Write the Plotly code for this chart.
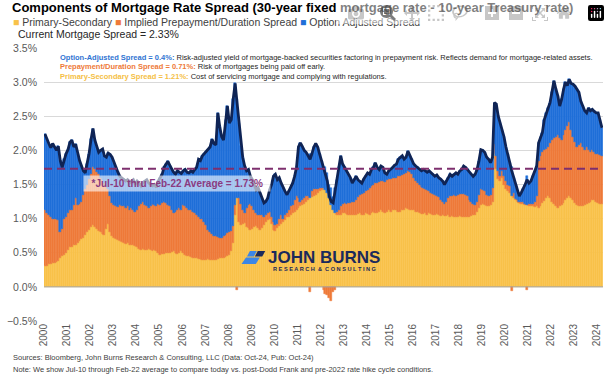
import pandas as pd
import plotly.graph_objects as go

# ---------------- data (monthly, Aug-2000 .. Oct-2024), values in % ----------------
months = pd.date_range("2000-08-01", periods=291, freq="MS")

primary_secondary = [
    .30, .31, .33, .34, .35,
    .35, .36, .38, .42, .45, .47, .50, .54, .58, .59, .61, .62,
    .64, .67, .70, .72, .76, .80, .84, .88, .90, .88, .85, .82,
    .80, .78, .76, .85, .92, .80, .74, .72, .70, .68, .67, .66,
    .64, .63, .64, .62, .61, .61, .60, .58, .55, .54, .55, .54,
    .54, .55, .54, .53, .54, .52, .50, .47, .48, .48, .49, .49,
    .50, .51, .52, .50, .48, .50, .52, .50, .47, .45, .45, .44,
    .43, .42, .42, .41, .41, .40, .40, .40, .41, .40, .40, .40,
    .40, .41, .42, .42, .43, .44, .45, .47, .52, .65, 1.05, 1.30,
    .95, .90, .92, .94, .88, .86, .84, .85, .88, .89, .86, .84,
    .86, .90, .95, .98, 1.00, .92, .84, .82, .86, .89, .92, .95,
    .98, 1.02, 1.03, 1.05, 1.08, 1.10, 1.12, 1.15, 1.18, 1.20, 1.22, 1.25,
    1.28, 1.30, 1.32, 1.33, 1.35, 1.38, 1.40, 1.42, 1.45, 1.42, 1.38, 1.30,
    1.20, 1.12, 1.08, 1.05, 1.05, 1.06, 1.08, 1.08, 1.07, 1.06, 1.05, 1.05,
    1.06, 1.05, 1.07, 1.08, 1.06, 1.05, 1.08, 1.07, 1.06, 1.08, 1.09, 1.08,
    1.08, 1.10, 1.12, 1.10, 1.08, 1.10, 1.12, 1.10, 1.12, 1.13, 1.12, 1.10,
    1.10, 1.12, 1.13, 1.15, 1.14, 1.12, 1.13, 1.12, 1.10, 1.10, 1.08, 1.07,
    1.07, 1.08, 1.06, 1.08, 1.07, 1.05, 1.06, 1.07, 1.05, 1.04, 1.05, 1.04,
    1.04, 1.05, 1.03, 1.04, 1.03, 1.02, 1.03, 1.04, 1.03, 1.03, 1.02, 1.03,
    1.03, 1.04, 1.05, 1.06, 1.10, 1.15, 1.20, 1.22, 1.20, 1.18, 1.19, 1.20,
    1.25, 1.95, 1.72, 1.58, 1.55, 1.60, 1.50, 1.43, 1.40, 1.38, 1.33, 1.30,
    1.27, 1.25, 1.23, 1.22, 1.21, 1.20, 1.20, 1.19, 1.18, 1.18, 1.17, 1.18,
    1.15, 1.18, 1.23, 1.26, 1.30, 1.33, 1.30, 1.25, 1.22, 1.18, 1.15, 1.18,
    1.20, 1.23, 1.28, 1.30, 1.33, 1.30, 1.27, 1.23, 1.20, 1.18, 1.18, 1.18,
    1.20, 1.22, 1.23, 1.25, 1.27, 1.28, 1.25, 1.23, 1.22, 1.21,
]

prepayment_duration = [
    .83, .77, .72, .68, .65,
    .65, .63, .60, .38, .40, .53, .53, .54, .54, .54, .59, .68,
    .56, .55, .55, .63, .67, .70, .74, .77, .85, .84, .83, .83,
    .80, .79, .76, .63, .51, .53, .49, .48, .48, .49, .53, .53,
    .54, .52, .54, .50, .54, .52, .50, .55, .63, .68, .70, .66,
    .64, .60, .64, .69, .66, .66, .72, .73, .75, .77, .74, .71,
    .68, .61, .56, .60, .65, .65, .61, .70, .71, .70, .68, .68,
    .67, .66, .63, .61, .59, .59, .55, .50, .43, .40, .38, .34,
    .34, .32, .30, .30, .31, .32, .34, .33, .30, .24, .15, -.05,
    .35, .32, .20, .14, .27, .34, .38, .33, .24, .19, .19, .21,
    .19, .12, .10, .10, .10, .10, .11, .08, .06, .10, .13, .05,
    .07, .06, .09, .13, .12, .18, .21, .15, .07, .08, .08, .08,
    .05, -.07, .08, .10, .08, .06, .05, .03, -.05, -.10, -.12, -.16,
    -.20, -.08, -.05, .05, .08, .12, .13, .15, .15, .17, .18, .20,
    .19, .23, .25, .27, .30, .33, .32, .35, .39, .40, .41, .44,
    .44, .43, .43, .45, .46, .46, .46, .48, .47, .47, .48, .52,
    .53, .52, .52, .52, .56, .56, .52, .48, .45, .42, .42, .40,
    .38, .36, .36, .32, .31, .31, .28, .26, .26, .24, .20, .18,
    .21, .25, .30, .29, .31, .31, .32, .32, .33, .33, .32, .30,
    .25, .21, .17, .14, .15, .20, .23, .20, .20, .17, .14, .15,
    .20, .15, .20, .12, .07, .10, .12, .12, .10, .10, -.06, .08,
    .02, .02, .01, .02, .03, .02, -.05, .03, .03, .04, .08, .15,
    .70, .74, .75, .74, .72, .72, .81, .90, .96, 1.02, 1.07, 1.00,
    .95, .99, 1.02, 1.05, 1.09, 1.00, .93, .89, .85, .90, .93, .87,
    .80, .83, .77, .73, .73, .69, .70, .72, .71, .71,
]

option_adjusted = [
    1.11, 1.08, 1.05, 1.02, 1.10,
    1.05, 1.01, 1.08, 1.05, .90, .87, .92, .93, 1.00, 1.02, .85, .79,
    .75, .63, .53, .35, .24, .30, .37, .51, .57, .43, .37, .32,
    .40, .45, .40, .42, .53, .61, .67, .62, .57, .51, .42, .41,
    .40, .40, .39, .40, .40, .44, .40, .42, .34, .26, .28, .35,
    .39, .37, .32, .26, .30, .28, .33, .40, .42, .50, .57, .64,
    .60, .60, .60, .55, .57, .53, .53, .50, .54, .53, .54, .58,
    .58, .64, .70, .85, .85, .93, 1.00, 1.08, 1.17, 1.25, 1.38, 1.36,
    1.34, 1.82, 1.63, 1.48, 1.41, 1.69, 1.86, 1.60, 1.63, 1.86, 1.78, 1.45,
    1.10, .84, .78, .69, .55, .52, .40, .39, .38, .34, .40, .33,
    .25, .21, .20, .22, .32, .48, .67, .75, .65, .61, .47, .45,
    .35, .27, .28, .27, .32, .34, .42, .75, .86, .78, .70, .64,
    .59, .64, .55, .62, .67, .61, .50, .40, .32, .33, .29, .19,
    .25, .19, .37, .47, .62, .74, .59, .52, .50, .42, .37, .27,
    .33, .34, .25, .20, .16, .20, .22, .25, .20, .24, .25, .30,
    .23, .19, .22, .20, .13, .09, .12, .14, .16, .18, .20, .25,
    .27, .28, .22, .23, .29, .24, .22, .20, .22, .23, .22, .23,
    .27, .26, .26, .30, .29, .29, .28, .31, .29, .30, .30, .28,
    .30, .30, .32, .29, .31, .34, .30, .34, .36, .41, .41, .39,
    .40, .41, .40, .45, .47, .50, .58, .58, .57, .55, .54, .47,
    .45, .60, .76, .80, .78, .60, .58, .50, .45, .34, .43, .22,
    .21, .13, .09, .14, .19, .28, .42, .30, .34, .40, .43, .44,
    .26, .28, .28, .45, .53, .57, .59, .70, .84, .70, .58, .47,
    .60, .68, .70, .60, .62, .68, .77, .82, .85, .77, .61, .60,
    .58, .50, .62, .60, .60, .60, .60, .60, .52, .41,
]

average_jul10_feb22 = 1.73
year_labels = [str(y) for y in range(2000, 2025)]

# ---------------- styling ----------------
FONT = "Liberation Sans, Arial, Helvetica, sans-serif"
YELLOW, ORANGE, BLUE, NAVY = "#F8C24A", "#EE7A39", "#1F6FD8", "#0F2455"
PURPLE = "#7E2F6E"

W, H = 610, 377
L, T, R, B = 37, 48, 603, 321


def px(x):
    return (x - L) / (R - L)


def py(y):
    return (B - y) / (B - T)


total = [a + b + c for a, b, c in zip(primary_secondary, prepayment_duration, option_adjusted)]
widths = [float(d) * 86400000.0 for d in months.days_in_month]

fig = go.Figure()
for name, vals, col in [
    ("Primary-Secondary", primary_secondary, YELLOW),
    ("Implied Prepayment/Duration Spread", prepayment_duration, ORANGE),
    ("Option Adjusted Spread", option_adjusted, BLUE),
]:
    fig.add_trace(go.Bar(x=months, y=vals, width=widths, offset=0, name=name,
                         marker=dict(color=col, line=dict(color=col, width=0.5)),
                         hoverinfo="skip"))

fig.add_trace(go.Scatter(x=months + pd.Timedelta(days=15), y=total, mode="lines",
                         line=dict(color=NAVY, width=2.8), hoverinfo="skip"))

tickvals = [pd.Timestamp(f"{y}-08-01") for y in year_labels]

fig.update_layout(
    width=W, height=H, barmode="relative", bargap=0, showlegend=False,
    margin=dict(l=L, r=W - R, t=T, b=H - B),
    plot_bgcolor="white", paper_bgcolor="white",
    font=dict(family=FONT, color="#404040"),
    xaxis=dict(type="date", range=["2000-08-01", "2024-11-01"], tickvals=tickvals,
               ticktext=year_labels, tickangle=-90, tickfont=dict(size=10, color="#595959"),
               showgrid=False, zeroline=False, showline=False, ticks=""),
    yaxis=dict(range=[-0.5, 3.5], dtick=0.5, tick0=0, tickformat=".1f", ticksuffix="%",
               tickfont=dict(size=10.5, color="#595959"), gridcolor="#D9D9D9",
               zeroline=False, showline=False, ticks="", ticklabelstandoff=6),
)

shapes = [
    dict(type="line", xref="paper", yref="y", x0=0, x1=1, y0=0, y1=0,
         line=dict(color="#A6A6A6", width=1), layer="above"),
    dict(type="line", xref="paper", yref="y", x0=0, x1=1,
         y0=average_jul10_feb22, y1=average_jul10_feb22,
         line=dict(color=PURPLE, width=2, dash="8px,5px"), layer="above"),
]


def poly(points, color):
    path = "M " + " L ".join(f"{px(x):.5f},{py(y):.5f}" for x, y in points) + " Z"
    return dict(type="path", xref="paper", yref="paper", path=path,
                fillcolor=color, line=dict(width=0), layer="above")


shapes.append(poly([(237, 264), (241.5, 257.5), (255.5, 257.5), (251.5, 264)], "#3C86E6"))
shapes.append(poly([(242.5, 256.5), (245.5, 251), (252.5, 251), (249.5, 256.5)], "#3C86E6"))
shapes.append(poly([(250.5, 256.5), (253.5, 251), (261, 251), (258, 256.5)], "#1B2A5C"))
fig.update_layout(shapes=shapes)

ann = []


def text(x, y, s, size, color="#404040", anchor="left", **kw):
    ann.append(dict(xref="paper", yref="paper", x=px(x), y=py(y), text=s, showarrow=False,
                    xanchor=anchor, yanchor="middle", font=dict(size=size, color=color, family=FONT),
                    **kw))


text(3, 7, "<b>Components of Mortgage Rate Spread (30-year fixed mortgage rate - 10-year Treasury rate)</b>",
     13, "#000000")
text(4, 22,
     f"<span style='color:{YELLOW}'>■</span> Primary-Secondary "
     f"<span style='color:{ORANGE}'>■</span> Implied Prepayment/Duration Spread "
     f"<span style='color:{BLUE}'>■</span> Option Adjusted Spread", 10.5)
text(9, 34.5, "Current Mortgage Spread = 2.33%", 10.5, "#262626")

text(51, 57, f"<b><span style='color:#2F74D2'>Option-Adjusted Spread = 0.4%:</span></b> "
     "Risk-adjusted yield of mortgage-backed securities factoring in prepayment risk. "
     "Reflects demand for mortgage-related assets.", 7.5, "#262626")
text(51, 66.5, f"<b><span style='color:#EE7A39'>Prepayment/Duration Spread = 0.71%:</span></b> "
     "Risk of mortgages being paid off early.", 7.5, "#262626")
text(51, 76, f"<b><span style='color:#F5C045'>Primary-Secondary Spread = 1.21%:</span></b> "
     "Cost of servicing mortgage and complying with regulations.", 7.5, "#262626")

text(172, 183.5, "<b>&nbsp;&nbsp;*Jul-10 thru Feb-22 Average = 1.73%&nbsp;&nbsp;</b>", 10, "#8A3A80",
     anchor="center", bgcolor="rgba(255,255,255,0.6)", borderpad=2)

text(321, 257.5, "<b>JOHN BURNS</b>", 17, "#1B2A5C", anchor="center")
text(321, 269, "<b>R E S E A R C H  &amp;  C O N S U L T I N G</b>", 5.6, "#1B2A5C", anchor="center")

text(4, 357, "Sources: Bloomberg, John Burns Research &amp; Consulting, LLC (Data: Oct-24, Pub: Oct-24)",
     7.5, "#404040")
text(4, 369, "Note: We show Jul-10 through Feb-22 average to compare today vs. post-Dodd Frank and "
     "pre-2022 rate hike cycle conditions.", 7.5, "#404040")

fig.update_layout(annotations=ann)

# remove the browser's default 8px page margin, then redraw so the whole figure repaints
POST = (
    "document.documentElement.style.margin='0px';"
    "document.body.style.margin='0px';document.body.style.padding='0px';"
    "var gd=document.getElementById('{plot_id}');"
    "Plotly.relayout(gd, {width: %d, height: %d});" % (W, H)
)
fig.write_html("out.html", post_script=POST)
